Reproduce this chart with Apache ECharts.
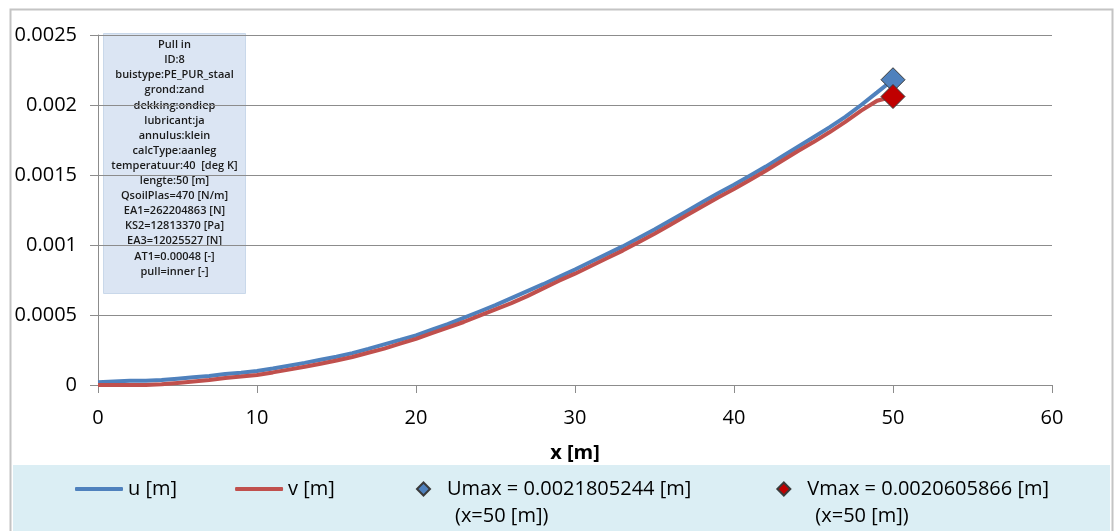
<!DOCTYPE html>
<html>
<head>
<meta charset="utf-8">
<title>Pull in – u / v</title>
<script src="https://cdn.jsdelivr.net/npm/echarts@6/dist/echarts.min.js"></script>
<style>
  html, body { margin: 0; padding: 0; background: #ffffff; }
  #chart { width: 1116px; height: 531px; }
</style>
</head>
<body>
<div id="chart"></div>
<script>
// Position along the pipe [m]
const xValues = [0, 1, 2, 3, 4, 5, 6, 7, 8, 9, 10, 11, 12, 13, 14, 15, 16, 17, 18, 19, 20,
  21, 22, 23, 24, 25, 26, 27, 28, 29, 30, 31, 32, 33, 34, 35, 36, 37, 38, 39, 40,
  41, 42, 43, 44, 45, 46, 47, 48, 49, 50];

// Displacement u [m]
const uValues = [0.000020, 0.000025, 0.000030, 0.000030, 0.000035, 0.000045, 0.000055, 0.000065,
  0.000078, 0.000088, 0.000100, 0.000118, 0.000138, 0.000158, 0.000180, 0.000202, 0.000228,
  0.000258, 0.000290, 0.000322, 0.000355, 0.000395, 0.000435, 0.000480, 0.000525, 0.000570,
  0.000620, 0.000670, 0.000720, 0.000772, 0.000825, 0.000880, 0.000935, 0.000990, 0.001050,
  0.001110, 0.001175, 0.001240, 0.001305, 0.001370, 0.001430, 0.001495, 0.001560, 0.001630,
  0.001700, 0.001770, 0.001840, 0.001915, 0.002000, 0.002090, 0.0021805244];

// Displacement v [m]
const vValues = [0, 0, 0, 0, 0.000005, 0.000015, 0.000025, 0.000035, 0.000050, 0.000060, 0.000072,
  0.000090, 0.000110, 0.000130, 0.000152, 0.000175, 0.000200, 0.000230, 0.000260, 0.000295,
  0.000330, 0.000370, 0.000410, 0.000450, 0.000495, 0.000540, 0.000585, 0.000635, 0.000690,
  0.000745, 0.000795, 0.000850, 0.000905, 0.000960, 0.001020, 0.001080, 0.001145, 0.001210,
  0.001275, 0.001340, 0.001400, 0.001465, 0.001530, 0.001600, 0.001670, 0.001735, 0.001805,
  0.001880, 0.001960, 0.002030, 0.0020605866];

// Maxima and where they occur
const uMax = [50, 0.0021805244];
const vMax = [50, 0.0020605866];

// Axis ticks
const xTicks = [0, 10, 20, 30, 40, 50, 60];
const yTicks = [0, 0.0005, 0.001, 0.0015, 0.002, 0.0025];

// Calculation parameters shown in the info box
const infoLines = [
  'Pull in',
  'ID:8',
  'buistype:PE_PUR_staal',
  'grond:zand',
  'dekking:ondiep',
  'lubricant:ja',
  'annulus:klein',
  'calcType:aanleg',
  'temperatuur:40  [deg K]',
  'lengte:50 [m]',
  'QsoilPlas=470 [N/m]',
  'EA1=262204863 [N]',
  'KS2=12813370 [Pa]',
  'EA3=12025527 [N]',
  'AT1=0.00048 [-]',
  'pull=inner [-]'
];

const FONT = '"Open Sans", "Noto Sans", sans-serif';
const FS = 20;
const uName = 'u [m]';
const vName = 'v [m]';
const uMaxName = 'Umax = ' + uMax[1] + ' [m]\n(x=' + uMax[0] + ' [m])';
const vMaxName = 'Vmax = ' + vMax[1] + ' [m]\n(x=' + vMax[0] + ' [m])';

const chart = echarts.init(document.getElementById('chart'), null, { renderer: 'canvas' });

chart.setOption({
  animation: false,
  backgroundColor: '#ffffff',
  textStyle: { fontFamily: FONT },
  grid: { left: 98, right: 64, top: 35, bottom: 146 },
  xAxis: {
    type: 'value',
    min: xTicks[0],
    max: xTicks[xTicks.length - 1],
    interval: xTicks[1] - xTicks[0],
    name: 'x [m]',
    nameLocation: 'middle',
    nameGap: 58,
    nameTextStyle: { fontFamily: FONT, fontSize: FS, fontWeight: 'bold', color: '#000' },
    axisLine: { show: true, onZero: false, lineStyle: { color: '#8c8c8c', width: 1 } },
    axisTick: { show: true, length: 8, lineStyle: { color: '#8c8c8c' } },
    axisLabel: { margin: 23, fontFamily: FONT, fontSize: FS, color: '#000' },
    splitLine: { show: false }
  },
  yAxis: {
    type: 'value',
    min: yTicks[0],
    max: yTicks[yTicks.length - 1],
    interval: yTicks[1] - yTicks[0],
    axisLine: { show: true, lineStyle: { color: '#8c8c8c', width: 1 } },
    axisTick: { show: true, length: 8, lineStyle: { color: '#8c8c8c' } },
    axisLabel: { margin: 21, fontFamily: FONT, fontSize: FS, color: '#000' },
    splitLine: { show: true, lineStyle: { color: '#8c8c8c', width: 1 } }
  },
  legend: [
    {
      // line series entries
      left: 75,
      top: 479,
      orient: 'horizontal',
      icon: 'roundRect',
      itemWidth: 48,
      itemHeight: 4,
      itemGap: 58,
      padding: 0,
      textStyle: { fontFamily: FONT, fontSize: FS, color: '#000' },
      data: [uName, vName]
    },
    {
      // maximum markers
      left: 416,
      top: 452,
      orient: 'horizontal',
      itemWidth: 13,
      itemHeight: 13,
      itemGap: 85,
      padding: 0,
      formatter: function (name) {
        const parts = name.split('\n');
        return '{s| }\n{a|' + parts[0] + '}\n{b|' + parts[1] + '}';
      },
      textStyle: {
        fontFamily: FONT, fontSize: FS, color: '#000',
        rich: {
          s: { fontSize: FS, lineHeight: 27 },
          a: { fontFamily: FONT, fontSize: FS, color: '#000', lineHeight: 27, padding: [0, 0, 0, 12] },
          b: { fontFamily: FONT, fontSize: FS, color: '#000', lineHeight: 27, padding: [0, 0, 0, 20] }
        }
      },
      data: [uMaxName, vMaxName]
    }
  ],
  graphic: [
    {
      // outer chart frame
      type: 'rect', z: -10, silent: true,
      shape: { x: 10.5, y: 9.5, width: 1102, height: 540 },
      style: { fill: 'none', stroke: '#c4c4c4', lineWidth: 2 }
    },
    {
      // legend band
      type: 'rect', z: -5, silent: true,
      shape: { x: 13, y: 465, width: 1097, height: 70 },
      style: { fill: '#dbeef4' }
    },
    {
      // parameter info box
      type: 'group', left: 103, top: 33, z: 100, silent: true,
      children: [
        {
          type: 'rect',
          shape: { x: 0, y: 0, width: 142, height: 260 },
          style: { fill: 'rgba(195,212,235,0.6)', stroke: '#c9d8ea', lineWidth: 1 }
        },
        {
          type: 'text',
          x: 71, y: 4,
          style: {
            text: infoLines.join('\n'),
            fontFamily: FONT, fontSize: 11, fontWeight: 600,
            lineHeight: 15.1, align: 'center', verticalAlign: 'top', fill: '#1a1a1a'
          }
        }
      ]
    }
  ],
  series: [
    {
      name: uName,
      type: 'line',
      data: xValues.map((x, i) => [x, uValues[i]]),
      symbol: 'none',
      lineStyle: { color: '#4f81bd', width: 4 },
      itemStyle: { color: '#4f81bd' },
      z: 2
    },
    {
      name: vName,
      type: 'line',
      data: xValues.map((x, i) => [x, vValues[i]]),
      symbol: 'none',
      lineStyle: { color: '#c0504d', width: 4 },
      itemStyle: { color: '#c0504d' },
      z: 3
    },
    {
      name: uMaxName,
      type: 'scatter',
      data: [uMax],
      symbol: 'diamond',
      symbolSize: 24,
      itemStyle: { color: '#4f81bd', borderColor: '#3a3a3a', borderWidth: 1, opacity: 1 },
      z: 4
    },
    {
      name: vMaxName,
      type: 'scatter',
      data: [vMax],
      symbol: 'diamond',
      symbolSize: 24,
      itemStyle: { color: '#c00000', borderColor: '#3a3a3a', borderWidth: 1, opacity: 1 },
      z: 5
    }
  ]
});
</script>
</body>
</html>
